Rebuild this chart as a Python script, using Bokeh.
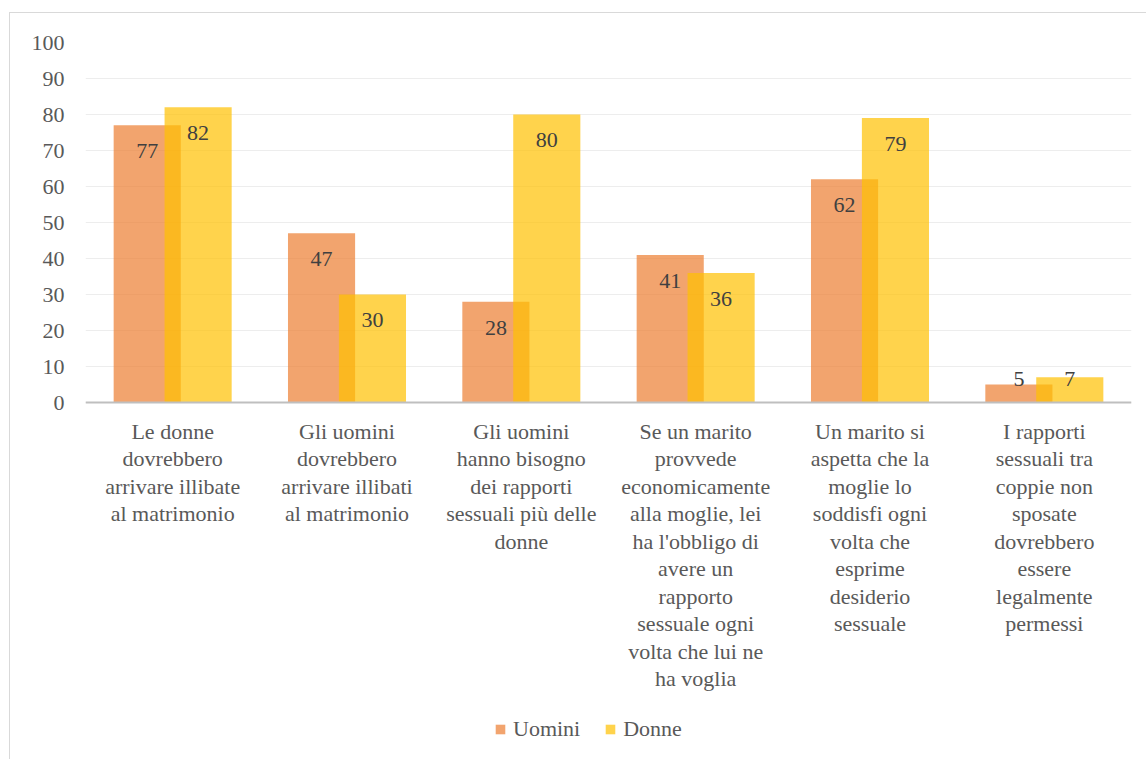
from bokeh.plotting import figure
from bokeh.models import ColumnDataSource, FactorRange, Range1d, Legend, LegendItem, FixedTicker, Span
from bokeh.transform import dodge
from bokeh.core.properties import value
from bokeh.embed import file_html
from bokeh.resources import INLINE

categories = [
    "Le donne\ndovrebbero\narrivare illibate\nal matrimonio",
    "Gli uomini\ndovrebbero\narrivare illibati\nal matrimonio",
    "Gli uomini\nhanno bisogno\ndei rapporti\nsessuali più delle\ndonne",
    "Se un marito\nprovvede\neconomicamente\nalla moglie, lei\nha l'obbligo di\navere un\nrapporto\nsessuale ogni\nvolta che lui ne\nha voglia",
    "Un marito si\naspetta che la\nmoglie lo\nsoddisfi ogni\nvolta che\nesprime\ndesiderio\nsessuale",
    "I rapporti\nsessuali tra\ncoppie non\nsposate\ndovrebbero\nessere\nlegalmente\npermessi",
]
uomini = [77, 47, 28, 41, 62, 5]
donne = [82, 30, 80, 36, 79, 7]
y_ticks = [0, 10, 20, 30, 40, 50, 60, 70, 80, 90, 100]

FONT = "Liberation Serif"
C_U = "#ED7D31"
C_D = "#FFC000"

src = ColumnDataSource(dict(
    cat=categories,
    u=uomini,
    d=donne,
    zero=[0] * len(categories),
    u_lab=[str(v) for v in uomini],
    d_lab=[str(v) for v in donne],
    u_y=[max(v - 7.2, 6.5) for v in uomini],
    d_y=[max(v - 7.2, 6.5) for v in donne],
))

# layout: value axis 0..100 occupies 360 px; the frame extends below 0 to hold category texts and legend
FRAME_H = 717
PX_PER_UNIT = 360 / 100
y_start = 100 - FRAME_H / PX_PER_UNIT

p = figure(
    x_range=FactorRange(*categories, range_padding=0),
    y_range=Range1d(y_start, 100),
    frame_width=1046, frame_height=FRAME_H,
    output_backend="svg", toolbar_location=None,
    min_border_left=75, min_border_right=15,
    min_border_top=29, min_border_bottom=0,
)
p.styles = {"margin-left": "9px", "margin-top": "12px",
            "border-left": "1px solid #D9D9D9", "border-top": "1px solid #D9D9D9"}
p.outline_line_color = None
p.background_fill_color = "white"

OFF = 0.146
W = 0.385
r_u = p.vbar(x=dodge("cat", -OFF, range=p.x_range), top="u", width=W, source=src,
             fill_color=C_U, fill_alpha=0.7, line_color=None)
r_d = p.vbar(x=dodge("cat", OFF, range=p.x_range), top="d", width=W, source=src,
             fill_color=C_D, fill_alpha=0.7, line_color=None)

p.text(x=dodge("cat", -OFF, range=p.x_range), y="u_y", text="u_lab", source=src,
       text_align="center", text_baseline="middle", text_font=value(FONT),
       text_font_size="22px", text_color="#404040")
p.text(x=dodge("cat", OFF, range=p.x_range), y="d_y", text="d_lab", source=src,
       text_align="center", text_baseline="middle", text_font=value(FONT),
       text_font_size="22px", text_color="#404040")

# category labels below the baseline
p.text(x="cat", y="zero", text="cat", source=src, y_offset=16,
       text_align="center", text_baseline="top", text_font=value(FONT),
       text_font_size="22px", text_color="#595959", text_line_height=1.1)

# baseline (category axis line)
p.add_layout(Span(location=0, dimension="width", line_color="#BFBFBF", line_width=2))

# axes
p.xaxis.visible = False
p.yaxis.ticker = FixedTicker(ticks=y_ticks)
p.yaxis.axis_line_color = None
p.yaxis.major_tick_line_color = None
p.yaxis.minor_tick_line_color = None
p.yaxis.major_tick_out = 0
p.yaxis.major_label_standoff = 21
p.yaxis.major_label_text_font = FONT
p.yaxis.major_label_text_font_size = "22px"
p.yaxis.major_label_text_color = "#595959"

p.xgrid.grid_line_color = None
p.ygrid.ticker = FixedTicker(ticks=y_ticks)
p.ygrid.grid_line_color = "#EDEDED"
p.ygrid.grid_line_width = 1

legend = Legend(items=[LegendItem(label="Uomini", renderers=[r_u]),
                       LegendItem(label="Donne", renderers=[r_d])],
                orientation="horizontal", location=(409, 17))
legend.label_text_font = FONT
legend.label_text_font_size = "22px"
legend.label_text_color = "#595959"
legend.glyph_width = 12
legend.glyph_height = 12
legend.label_standoff = 7
legend.spacing = 24
legend.padding = 0
legend.margin = 0
legend.border_line_color = None
legend.background_fill_alpha = 0
p.add_layout(legend, "center")

open("out.html", "w").write(file_html(p, INLINE))
